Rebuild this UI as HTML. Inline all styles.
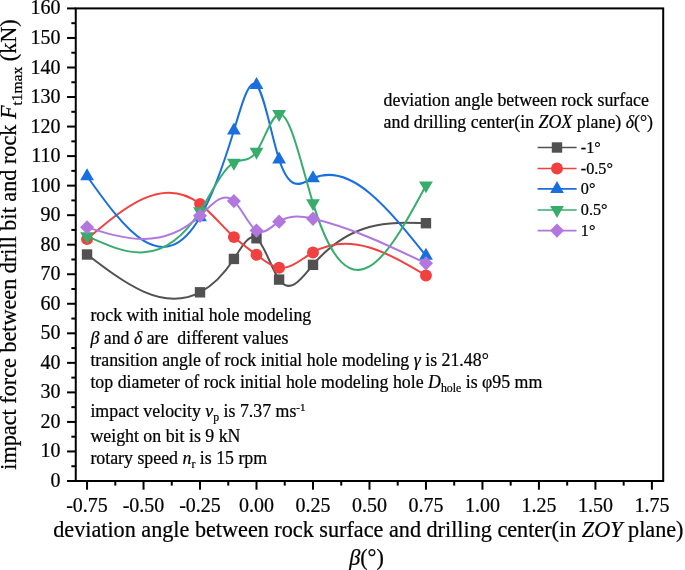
<!DOCTYPE html>
<html><head><meta charset="utf-8"><title>chart</title>
<style>
html,body{margin:0;padding:0;background:#fff;}
body{width:685px;height:570px;overflow:hidden;}
svg{display:block;}
text{font-family:"Liberation Serif","Times New Roman",serif;fill:#000;stroke:#000;stroke-width:0.22px;}
.tk{font-size:20px;}
.an{font-size:17.83px;}
.ti{font-size:22.2px;}
.i{font-style:italic;}
</style></head><body>
<svg width="685" height="570" viewBox="0 0 685 570">
<rect x="0" y="0" width="685" height="570" fill="#fff"/>
<g>
<path d="M87.05,254.50 C124.70,283.23 162.36,311.95 200.02,292.30 C211.32,286.40 222.61,276.15 233.91,258.93 C241.44,247.45 248.97,232.87 256.50,238.26 C264.04,243.65 271.57,269.01 279.10,279.60 C290.40,295.48 301.69,278.11 312.99,264.84 C350.65,220.59 388.30,221.90 425.96,223.20" stroke="#515151" fill="none" stroke-width="2.0" stroke-linecap="round" stroke-linejoin="round"/>
<rect x="81.85" y="249.30" width="10.4" height="10.4" fill="#515151"/>
<rect x="194.82" y="287.10" width="10.4" height="10.4" fill="#515151"/>
<rect x="228.71" y="253.73" width="10.4" height="10.4" fill="#515151"/>
<rect x="251.30" y="233.06" width="10.4" height="10.4" fill="#515151"/>
<rect x="273.90" y="274.40" width="10.4" height="10.4" fill="#515151"/>
<rect x="307.79" y="259.64" width="10.4" height="10.4" fill="#515151"/>
<rect x="420.76" y="218.00" width="10.4" height="10.4" fill="#515151"/>
</g>
<g>
<path d="M87.05,239.14 C124.70,206.99 162.36,174.84 200.02,203.86 C211.32,212.56 222.61,226.77 233.91,237.08 C241.44,243.95 248.97,249.09 256.50,254.80 C264.04,260.51 271.57,266.79 279.10,267.79 C290.40,269.29 301.69,258.89 312.99,252.43 C350.65,230.91 388.30,253.19 425.96,275.47" stroke="#F14040" fill="none" stroke-width="2.0" stroke-linecap="round" stroke-linejoin="round"/>
<circle cx="87.05" cy="239.14" r="5.95" fill="#F14040"/>
<circle cx="200.02" cy="203.86" r="5.95" fill="#F14040"/>
<circle cx="233.91" cy="237.08" r="5.95" fill="#F14040"/>
<circle cx="256.50" cy="254.80" r="5.95" fill="#F14040"/>
<circle cx="279.10" cy="267.79" r="5.95" fill="#F14040"/>
<circle cx="312.99" cy="252.43" r="5.95" fill="#F14040"/>
<circle cx="425.96" cy="275.47" r="5.95" fill="#F14040"/>
</g>
<g>
<path d="M87.05,176.25 C124.70,228.98 162.36,281.72 200.02,217.14 C211.32,197.77 222.61,167.84 233.91,130.47 C241.44,105.56 248.97,77.34 256.50,85.00 C264.04,92.65 271.57,136.19 279.10,159.41 C290.40,194.25 301.69,183.40 312.99,178.31 C350.65,161.36 388.30,208.52 425.96,255.68" stroke="#1A6FDF" fill="none" stroke-width="2.0" stroke-linecap="round" stroke-linejoin="round"/>
<polygon points="87.05,168.28 93.95,180.23 80.15,180.23" fill="#1A6FDF"/>
<polygon points="200.02,209.18 206.92,221.13 193.12,221.13" fill="#1A6FDF"/>
<polygon points="233.91,122.51 240.81,134.46 227.01,134.46" fill="#1A6FDF"/>
<polygon points="256.50,77.03 263.40,88.98 249.60,88.98" fill="#1A6FDF"/>
<polygon points="279.10,151.45 286.00,163.40 272.20,163.40" fill="#1A6FDF"/>
<polygon points="312.99,170.35 319.89,182.30 306.09,182.30" fill="#1A6FDF"/>
<polygon points="425.96,247.71 432.86,259.67 419.06,259.67" fill="#1A6FDF"/>
</g>
<g>
<path d="M87.05,236.19 C124.70,253.32 162.36,270.44 200.02,211.24 C211.32,193.48 222.61,168.85 233.91,162.66 C241.44,158.54 248.97,162.62 256.50,151.74 C264.04,140.86 271.57,115.02 279.10,113.94 C290.40,112.31 301.69,166.38 312.99,203.12 C350.65,325.58 388.30,255.49 425.96,185.40" stroke="#37AD6B" fill="none" stroke-width="2.0" stroke-linecap="round" stroke-linejoin="round"/>
<polygon points="87.05,244.16 93.95,232.21 80.15,232.21" fill="#37AD6B"/>
<polygon points="200.02,219.21 206.92,207.26 193.12,207.26" fill="#37AD6B"/>
<polygon points="233.91,170.63 240.81,158.68 227.01,158.68" fill="#37AD6B"/>
<polygon points="256.50,159.70 263.40,147.75 249.60,147.75" fill="#37AD6B"/>
<polygon points="279.10,121.90 286.00,109.95 272.20,109.95" fill="#37AD6B"/>
<polygon points="312.99,211.09 319.89,199.13 306.09,199.13" fill="#37AD6B"/>
<polygon points="425.96,193.37 432.86,181.42 419.06,181.42" fill="#37AD6B"/>
</g>
<g>
<path d="M87.05,227.33 C124.70,239.00 162.36,250.68 200.02,215.82 C211.32,205.36 222.61,190.71 233.91,201.05 C241.44,207.94 248.97,225.94 256.50,230.58 C264.04,235.22 271.57,226.50 279.10,221.72 C290.40,214.55 301.69,216.23 312.99,218.77 C350.65,227.24 388.30,245.30 425.96,263.36" stroke="#B177DE" fill="none" stroke-width="2.0" stroke-linecap="round" stroke-linejoin="round"/>
<polygon points="87.05,220.18 94.05,227.33 87.05,234.48 80.05,227.33" fill="#B177DE"/>
<polygon points="200.02,208.67 207.02,215.82 200.02,222.97 193.02,215.82" fill="#B177DE"/>
<polygon points="233.91,193.90 240.91,201.05 233.91,208.20 226.91,201.05" fill="#B177DE"/>
<polygon points="256.50,223.43 263.50,230.58 256.50,237.73 249.50,230.58" fill="#B177DE"/>
<polygon points="279.10,214.57 286.10,221.72 279.10,228.87 272.10,221.72" fill="#B177DE"/>
<polygon points="312.99,211.62 319.99,218.77 312.99,225.92 305.99,218.77" fill="#B177DE"/>
<polygon points="425.96,256.21 432.96,263.36 425.96,270.51 418.96,263.36" fill="#B177DE"/>
</g>
<g stroke="#000" stroke-width="2" fill="none" stroke-linecap="butt">
<rect x="75.75" y="8.4" width="587.45" height="472.60"/>
<line x1="67.05" y1="481.00" x2="75.75" y2="481.00"/>
<line x1="67.05" y1="451.46" x2="75.75" y2="451.46"/>
<line x1="67.05" y1="421.93" x2="75.75" y2="421.93"/>
<line x1="67.05" y1="392.39" x2="75.75" y2="392.39"/>
<line x1="67.05" y1="362.86" x2="75.75" y2="362.86"/>
<line x1="67.05" y1="333.32" x2="75.75" y2="333.32"/>
<line x1="67.05" y1="303.78" x2="75.75" y2="303.78"/>
<line x1="67.05" y1="274.25" x2="75.75" y2="274.25"/>
<line x1="67.05" y1="244.71" x2="75.75" y2="244.71"/>
<line x1="67.05" y1="215.18" x2="75.75" y2="215.18"/>
<line x1="67.05" y1="185.64" x2="75.75" y2="185.64"/>
<line x1="67.05" y1="156.10" x2="75.75" y2="156.10"/>
<line x1="67.05" y1="126.57" x2="75.75" y2="126.57"/>
<line x1="67.05" y1="97.03" x2="75.75" y2="97.03"/>
<line x1="67.05" y1="67.50" x2="75.75" y2="67.50"/>
<line x1="67.05" y1="37.96" x2="75.75" y2="37.96"/>
<line x1="67.05" y1="8.42" x2="75.75" y2="8.42"/>
<line x1="71.35" y1="466.23" x2="75.75" y2="466.23"/>
<line x1="71.35" y1="436.70" x2="75.75" y2="436.70"/>
<line x1="71.35" y1="407.16" x2="75.75" y2="407.16"/>
<line x1="71.35" y1="377.62" x2="75.75" y2="377.62"/>
<line x1="71.35" y1="348.09" x2="75.75" y2="348.09"/>
<line x1="71.35" y1="318.55" x2="75.75" y2="318.55"/>
<line x1="71.35" y1="289.02" x2="75.75" y2="289.02"/>
<line x1="71.35" y1="259.48" x2="75.75" y2="259.48"/>
<line x1="71.35" y1="229.94" x2="75.75" y2="229.94"/>
<line x1="71.35" y1="200.41" x2="75.75" y2="200.41"/>
<line x1="71.35" y1="170.87" x2="75.75" y2="170.87"/>
<line x1="71.35" y1="141.34" x2="75.75" y2="141.34"/>
<line x1="71.35" y1="111.80" x2="75.75" y2="111.80"/>
<line x1="71.35" y1="82.26" x2="75.75" y2="82.26"/>
<line x1="71.35" y1="52.73" x2="75.75" y2="52.73"/>
<line x1="71.35" y1="23.19" x2="75.75" y2="23.19"/>
<line x1="87.05" y1="481.00" x2="87.05" y2="489.70"/>
<line x1="143.53" y1="481.00" x2="143.53" y2="489.70"/>
<line x1="200.02" y1="481.00" x2="200.02" y2="489.70"/>
<line x1="256.50" y1="481.00" x2="256.50" y2="489.70"/>
<line x1="312.99" y1="481.00" x2="312.99" y2="489.70"/>
<line x1="369.48" y1="481.00" x2="369.48" y2="489.70"/>
<line x1="425.96" y1="481.00" x2="425.96" y2="489.70"/>
<line x1="482.45" y1="481.00" x2="482.45" y2="489.70"/>
<line x1="538.93" y1="481.00" x2="538.93" y2="489.70"/>
<line x1="595.42" y1="481.00" x2="595.42" y2="489.70"/>
<line x1="651.90" y1="481.00" x2="651.90" y2="489.70"/>
<line x1="115.29" y1="481.00" x2="115.29" y2="485.60"/>
<line x1="171.78" y1="481.00" x2="171.78" y2="485.60"/>
<line x1="228.26" y1="481.00" x2="228.26" y2="485.60"/>
<line x1="284.75" y1="481.00" x2="284.75" y2="485.60"/>
<line x1="341.23" y1="481.00" x2="341.23" y2="485.60"/>
<line x1="397.72" y1="481.00" x2="397.72" y2="485.60"/>
<line x1="454.20" y1="481.00" x2="454.20" y2="485.60"/>
<line x1="510.69" y1="481.00" x2="510.69" y2="485.60"/>
<line x1="567.17" y1="481.00" x2="567.17" y2="485.60"/>
<line x1="623.66" y1="481.00" x2="623.66" y2="485.60"/>
</g>
<g class="tk" text-anchor="end">
<text x="60.4" y="487.00">0</text>
<text x="60.4" y="457.46">10</text>
<text x="60.4" y="427.93">20</text>
<text x="60.4" y="398.39">30</text>
<text x="60.4" y="368.86">40</text>
<text x="60.4" y="339.32">50</text>
<text x="60.4" y="309.78">60</text>
<text x="60.4" y="280.25">70</text>
<text x="60.4" y="250.71">80</text>
<text x="60.4" y="221.18">90</text>
<text x="60.4" y="191.64">100</text>
<text x="60.4" y="162.10">110</text>
<text x="60.4" y="132.57">120</text>
<text x="60.4" y="103.03">130</text>
<text x="60.4" y="73.50">140</text>
<text x="60.4" y="43.96">150</text>
<text x="60.4" y="14.42">160</text>
</g>
<g class="tk" text-anchor="middle">
<text x="87.05" y="511.8">-0.75</text>
<text x="143.53" y="511.8">-0.50</text>
<text x="200.02" y="511.8">-0.25</text>
<text x="256.50" y="511.8">0.00</text>
<text x="312.99" y="511.8">0.25</text>
<text x="369.48" y="511.8">0.50</text>
<text x="425.96" y="511.8">0.75</text>
<text x="482.45" y="511.8">1.00</text>
<text x="538.93" y="511.8">1.25</text>
<text x="595.42" y="511.8">1.50</text>
<text x="651.90" y="511.8">1.75</text>
</g>
<text class="ti" x="368.35" y="537.1" text-anchor="middle" style="white-space:pre">deviation angle between rock surface and drilling center(in <tspan class="i">ZOY</tspan> plane)</text>
<text class="ti" x="366.5" y="565" text-anchor="middle"><tspan class="i">β</tspan>(°)</text>
<text class="ti" transform="translate(15.8,244.5) rotate(-90)" text-anchor="middle">impact force between drill bit and rock <tspan class="i">F</tspan><tspan font-size="15.5" dy="6.5">t1max</tspan><tspan dy="-6.5"> (kN)</tspan></text>
<g class="an">
<text x="383.6" y="106.2">deviation angle between rock surface</text>
<text x="383.6" y="127.9">and drilling center(in <tspan class="i">ZOX</tspan> plane) <tspan class="i">δ</tspan>(°)</text>
<line x1="537.6" y1="147.5" x2="576.6" y2="147.5" stroke="#515151" stroke-width="1.6"/>
<rect x="551.80" y="142.30" width="10.4" height="10.4" fill="#515151"/>
<text x="580.8" y="152.80" font-size="16.2">-1°</text>
<line x1="537.6" y1="168.5" x2="576.6" y2="168.5" stroke="#F14040" stroke-width="1.6"/>
<circle cx="557.00" cy="168.50" r="5.95" fill="#F14040"/>
<text x="580.8" y="173.80" font-size="16.2">-0.5°</text>
<line x1="537.6" y1="188.9" x2="576.6" y2="188.9" stroke="#1A6FDF" stroke-width="1.6"/>
<polygon points="557.00,180.93 563.90,192.88 550.10,192.88" fill="#1A6FDF"/>
<text x="580.8" y="194.20" font-size="16.2">0°</text>
<line x1="537.6" y1="210" x2="576.6" y2="210" stroke="#37AD6B" stroke-width="1.6"/>
<polygon points="557.00,217.97 563.90,206.02 550.10,206.02" fill="#37AD6B"/>
<text x="580.8" y="215.30" font-size="16.2">0.5°</text>
<line x1="537.6" y1="230.6" x2="576.6" y2="230.6" stroke="#B177DE" stroke-width="1.6"/>
<polygon points="557.00,223.45 564.00,230.60 557.00,237.75 550.00,230.60" fill="#B177DE"/>
<text x="580.8" y="235.90" font-size="16.2">1°</text>
</g>
<g class="an">
<text x="90.4" y="321.2">rock with initial hole modeling</text>
<text x="90.4" y="343.8" style="white-space:pre"><tspan class="i">β</tspan> and <tspan class="i">δ</tspan> are  different values</text>
<text x="90.4" y="366.0">transition angle of rock initial hole modeling <tspan class="i">γ</tspan> is 21.48°</text>
<text x="90.4" y="388.2">top diameter of rock initial hole modeling hole <tspan class="i">D</tspan><tspan font-size="11.8" dy="4.2">hole</tspan><tspan dy="-4.2"> is φ95 mm</tspan></text>
<text x="90.4" y="416.5">impact velocity <tspan class="i">v</tspan><tspan font-size="11.8" dy="4.2">p</tspan><tspan dy="-4.2"> is 7.37 ms</tspan><tspan font-size="11" dy="-5.2">-1</tspan></text>
<text x="90.4" y="442">weight on bit is 9 kN</text>
<text x="90.4" y="463.6">rotary speed <tspan class="i">n</tspan><tspan font-size="11.8" dy="4.2">r</tspan><tspan dy="-4.2"> is 15 rpm</tspan></text>
</g>
</svg></body></html>
